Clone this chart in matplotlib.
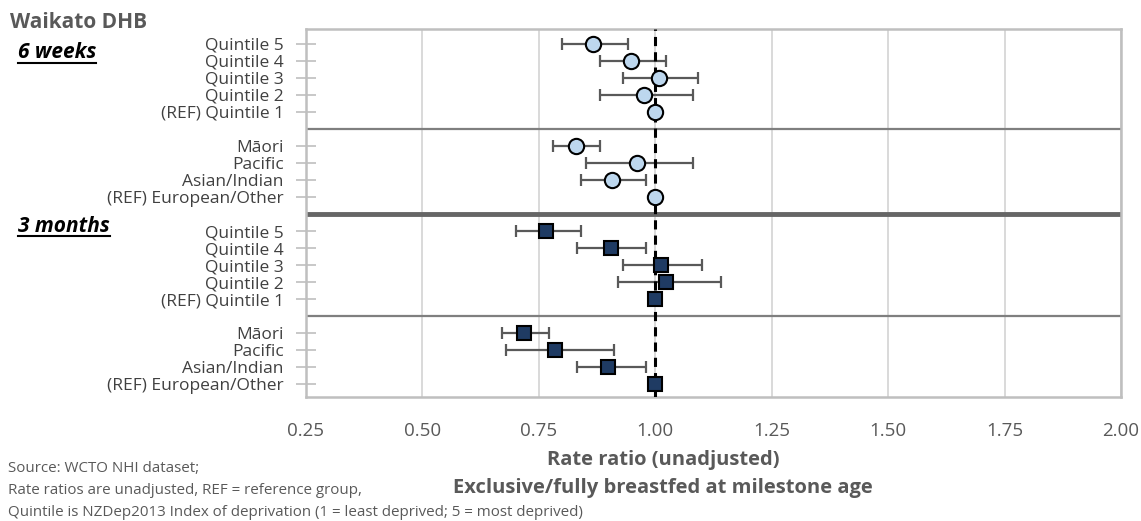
import numpy as np
import matplotlib
matplotlib.use("Agg")
import matplotlib.pyplot as plt
from matplotlib.lines import Line2D

plt.rcParams['font.family'] = ['Open Sans', 'DejaVu Sans']

# datos
etiquetas_quintil = ["Quintile 5", "Quintile 4", "Quintile 3", "Quintile 2", "(REF) Quintile 1"]
etiquetas_etnia = ["Māori", "Pacific", "Asian/Indian", "(REF) European/Other"]

# 6 semanas
rr_6s_quintil = [0.866, 0.948, 1.009, 0.975, 1.00]
inf_6s_quintil = [0.800, 0.881, 0.931, 0.881, np.nan]
sup_6s_quintil = [0.941, 1.022, 1.092, 1.082, np.nan]
rr_6s_etnia = [0.830, 0.960, 0.907, 1.00]
inf_6s_etnia = [0.781, 0.851, 0.841, np.nan]
sup_6s_etnia = [0.881, 1.082, 0.981, np.nan]

# 3 meses
rr_3m_quintil = [0.765, 0.904, 1.013, 1.022, 1.00]
inf_3m_quintil = [0.701, 0.831, 0.931, 0.921, np.nan]
sup_3m_quintil = [0.841, 0.981, 1.101, 1.142, np.nan]
rr_3m_etnia = [0.719, 0.784, 0.899, 1.00]
inf_3m_etnia = [0.670, 0.680, 0.831, np.nan]
sup_3m_etnia = [0.771, 0.911, 0.981, np.nan]

ticks_x = [0.25, 0.50, 0.75, 1.00, 1.25, 1.50, 1.75, 2.00]

gris = "#595959"
azul_claro = "#bdd7ee"
azul_oscuro = "#1f3b63"

# posiciones de filas (hueco entre grupos)
pos_6s_q = np.arange(0, 5)
pos_6s_e = np.arange(6, 10)
pos_3m_q = np.arange(11, 16)
pos_3m_e = np.arange(17, 21)

fig = plt.figure(figsize=(11.41, 5.21), dpi=100)
ax = fig.add_axes([306/1141, 1-397/521, (1121-306)/1141, (397-29)/521])

def dibujar(rr, inf, sup, pos, marcador, color, tam):
    rr = np.array(rr)
    inf = np.array(inf)
    sup = np.array(sup)
    err = np.vstack([rr - inf, sup - rr])
    ax.errorbar(rr, pos, xerr=err, fmt="none", ecolor=gris, elinewidth=1.6,
                capsize=4.5, capthick=1.6, zorder=3)
    ax.plot(rr, pos, linestyle="none", marker=marcador, markersize=tam,
            markerfacecolor=color, markeredgecolor="black", markeredgewidth=1.5, zorder=5)

dibujar(rr_6s_quintil, inf_6s_quintil, sup_6s_quintil, pos_6s_q, "o", azul_claro, 11)
dibujar(rr_6s_etnia, inf_6s_etnia, sup_6s_etnia, pos_6s_e, "o", azul_claro, 11)
dibujar(rr_3m_quintil, inf_3m_quintil, sup_3m_quintil, pos_3m_q, "s", azul_oscuro, 10)
dibujar(rr_3m_etnia, inf_3m_etnia, sup_3m_etnia, pos_3m_e, "s", azul_oscuro, 10)

# linea de referencia
ax.axvline(1.0, color="black", linestyle=(0, (3, 2)), linewidth=2.2, zorder=4)

# separadores
ax.axhline(5, color="#7f7f7f", linewidth=1.6, zorder=2)
ax.axhline(16, color="#7f7f7f", linewidth=1.6, zorder=2)
ax.axhline(10, color="#666666", linewidth=3.5, zorder=2)

ax.set_xlim(0.25, 2.00)
ax.set_ylim(20.76, -0.88)
ax.set_xticks(ticks_x)
ax.set_xticklabels([f"{t:.2f}" for t in ticks_x])
ax.grid(axis="x", color="#d9d9d9", linewidth=1.4, zorder=0)
ax.set_axisbelow(True)

posiciones = list(pos_6s_q) + list(pos_6s_e) + list(pos_3m_q) + list(pos_3m_e)
etiquetas = etiquetas_quintil + etiquetas_etnia + etiquetas_quintil + etiquetas_etnia
ax.set_yticks(posiciones)
ax.set_yticklabels(etiquetas)
ax.tick_params(axis="y", direction="inout", length=14, width=1.2, color="#bfbfbf",
               labelsize=12.5, labelcolor="#404040", pad=9)
ax.tick_params(axis="x", length=0, labelsize=13.5, labelcolor=gris, pad=18)
for s in ax.spines.values():
    s.set_color("#bfbfbf")
    s.set_linewidth(1.8)

# textos
fig.text(10/1141, 1-22/521, "Waikato DHB", fontsize=15, fontweight="bold",
         color=gris, va="center", ha="left")
t6 = fig.text(18/1141, 1-53/521, "6 weeks", fontsize=15, fontweight="bold",
              fontstyle="italic", color="black", va="center", ha="left")
t3 = fig.text(18/1141, 1-226/521, "3 months", fontsize=15, fontweight="bold",
              fontstyle="italic", color="black", va="center", ha="left")

fig.text(663/1141, 1-460/521, "Rate ratio (unadjusted)", fontsize=14.5, fontweight="bold",
         color=gris, va="center", ha="center")
fig.text(663/1141, 1-488/521, "Exclusive/fully breastfed at milestone age", fontsize=14.5,
         fontweight="bold", color=gris, va="center", ha="center")

fig.text(8/1141, 1-469/521, "Source: WCTO NHI dataset;", fontsize=10.9, color=gris, va="center")
fig.text(8/1141, 1-491/521, "Rate ratios are unadjusted, REF = reference group,",
         fontsize=10.9, color=gris, va="center")
fig.text(8/1141, 1-512/521,
         "Quintile is NZDep2013 Index of deprivation (1 = least deprived; 5 = most deprived)",
         fontsize=10.9, color=gris, va="center")

# subrayado
fig.canvas.draw()
for t in (t6, t3):
    bb = t.get_window_extent()
    y = bb.y0 + 1
    fig.add_artist(Line2D([bb.x0 / fig.bbox.width, bb.x1 / fig.bbox.width],
                          [y / fig.bbox.height, y / fig.bbox.height],
                          color="black", linewidth=1.5, transform=fig.transFigure))

fig.savefig("out.png", dpi=100)
